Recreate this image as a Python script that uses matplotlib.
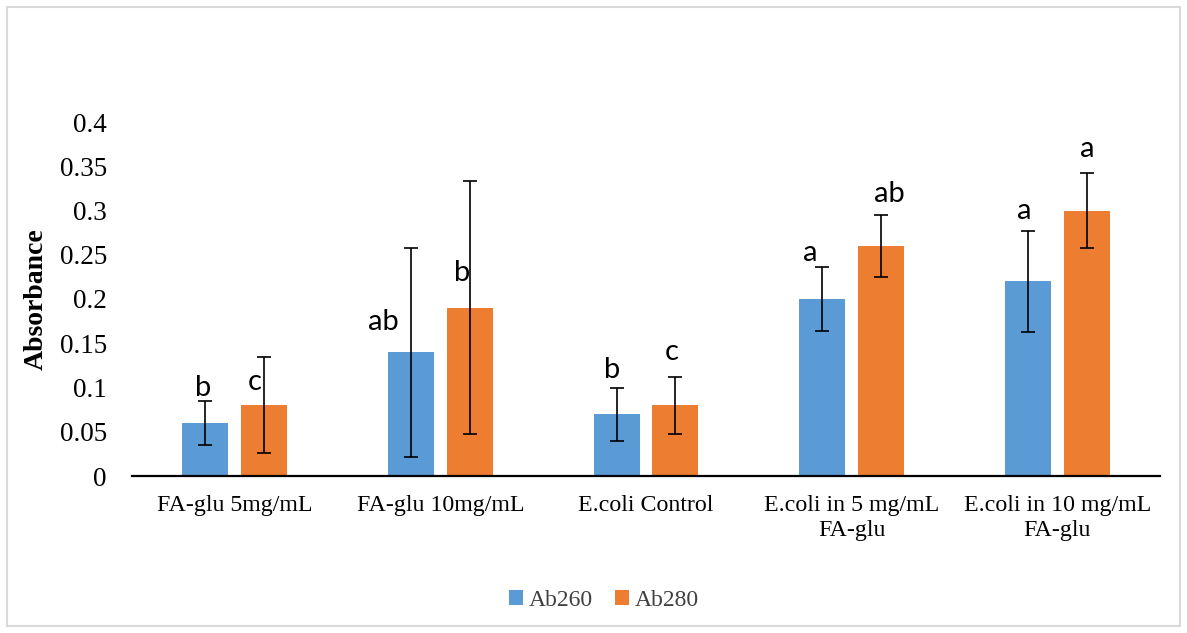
import matplotlib
matplotlib.use("Agg")
import matplotlib.pyplot as plt
import numpy as np
from matplotlib.patches import Rectangle

categories = ["FA-glu 5mg/mL", "FA-glu 10mg/mL", "E.coli Control",
              "E.coli in 5 mg/mL\nFA-glu", "E.coli in 10 mg/mL\nFA-glu"]
ab260 = [0.06, 0.14, 0.07, 0.20, 0.22]
ab280 = [0.08, 0.19, 0.08, 0.26, 0.30]
err260 = [0.025, 0.118, 0.030, 0.036, 0.057]
err280 = [0.054, 0.143, 0.032, 0.035, 0.042]
letters260 = ["b", "ab", "b", "a", "a"]
letters280 = ["c", "b", "c", "ab", "a"]
yticks = [0, 0.05, 0.1, 0.15, 0.2, 0.25, 0.3, 0.35, 0.4]
ytick_labels = ["0", "0.05", "0.1", "0.15", "0.2", "0.25", "0.3", "0.35", "0.4"]

# annotation placement (layout, not data)
lab260_dx = [-0.01, -0.136, -0.024, -0.058, -0.019]
lab260_y = [0.0995, 0.174, 0.12, 0.252, 0.30]
lab280_dx = [-0.044, -0.039, -0.019, 0.039, 0.005]
lab280_y = [0.106, 0.229, 0.14, 0.319, 0.37]

blue = "#5B9BD5"
orange = "#ED7D31"

fig = plt.figure(figsize=(11.87, 6.33), dpi=100)
fig.patches.append(Rectangle((7 / 1187, 7 / 633), 1173 / 1187, 619 / 633,
                             transform=fig.transFigure, fill=False,
                             edgecolor="#d9d9d9", linewidth=1.5))

ax = fig.add_axes([132 / 1187, (633 - 476) / 633, 1028 / 1187, 354 / 633])
x = np.arange(len(categories))
w = 0.224
off = 0.143
serif = "Liberation Serif"

ax.bar(x - off, ab260, w, color=blue, label="Ab260", zorder=2)
ax.bar(x + off, ab280, w, color=orange, label="Ab280", zorder=2)
ax.errorbar(x - off, ab260, yerr=err260, fmt="none", ecolor="black",
            elinewidth=1.2, capsize=5, capthick=1.2, zorder=3)
ax.errorbar(x + off, ab280, yerr=err280, fmt="none", ecolor="black",
            elinewidth=1.2, capsize=5, capthick=1.2, zorder=3)

for i in range(len(categories)):
    ax.text(x[i] - off + lab260_dx[i], lab260_y[i], letters260[i],
            ha="center", va="center", fontsize=21, family="Lato", color="black")
    ax.text(x[i] + off + lab280_dx[i], lab280_y[i], letters280[i],
            ha="center", va="center", fontsize=21, family="Lato", color="black")

ax.set_xlim(-0.5, len(categories) - 0.5)
ax.set_ylim(0, 0.4)
ax.set_yticks(yticks)
ax.set_yticklabels(ytick_labels, family=serif, fontsize=19.5)
ax.set_xticks(x)
ax.set_xticklabels(categories, family=serif, fontsize=17.2, linespacing=1.2)
ax.tick_params(axis="y", length=0, pad=18)
ax.tick_params(axis="x", length=0, pad=14)
for s in ["top", "right", "left"]:
    ax.spines[s].set_visible(False)
ax.spines["bottom"].set_linewidth(1.6)
ax.spines["bottom"].set_color("black")

ax.set_ylabel("Absorbance", family=serif, fontsize=20, fontweight="bold")
ax.yaxis.set_label_coords(-0.081, 0.5)

leg = fig.legend(loc="center", bbox_to_anchor=(604 / 1187, 1 - 600 / 633),
                 ncol=2, frameon=False, prop={"family": serif, "size": 17},
                 handlelength=0.6, handleheight=0.6, handletextpad=0.25,
                 columnspacing=0.9)
for t in leg.get_texts():
    t.set_color("#404040")

fig.savefig("out.png", dpi=100)
